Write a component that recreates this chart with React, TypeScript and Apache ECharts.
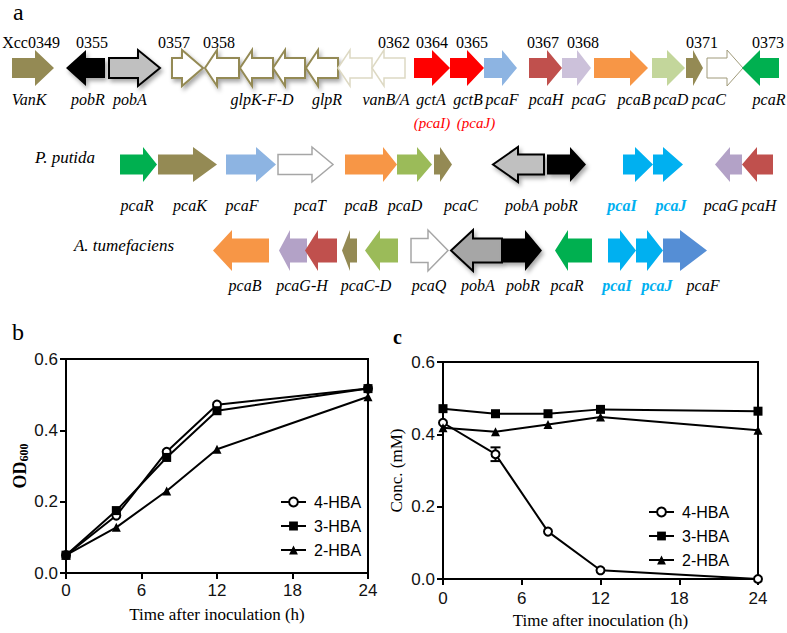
import React, { useEffect, useRef } from "react";
import * as echarts from "echarts";

// ---------- Panel b / c data ----------
const TIME = [0, 4, 8, 12, 24];
const OD_4HBA = [0.05, 0.161, 0.34, 0.472, 0.517];
const OD_3HBA = [0.05, 0.175, 0.324, 0.455, 0.517];
const OD_2HBA = [0.05, 0.128, 0.23, 0.347, 0.494];
const CONC_4HBA = [0.432, 0.345, 0.131, 0.024, 0.0];
const CONC_4HBA_ERR = [0, 0.019, 0, 0, 0];
const CONC_3HBA = [0.471, 0.457, 0.457, 0.469, 0.464];
const CONC_2HBA = [0.418, 0.407, 0.427, 0.448, 0.411];
const SERIES_NAMES = ["4-HBA", "3-HBA", "2-HBA"];

// ---------- Panel a: gene maps (map units along the operon) ----------
// [from, to, head, strand, kind]
const ROW1_GENES: [number, number, number, number, string][] = [
  [12, 54, 35, 1, "olive"],
  [66, 105, 86, -1, "black"],
  [109, 160, 138, 1, "grayOut"],
  [172, 203, 182, 1, "whiteOlive"],
  [205, 239, 217, -1, "whiteOlive"],
  [240, 273, 252, -1, "whiteOlive"],
  [273, 305, 285, -1, "whiteOlive"],
  [306, 338, 318, -1, "whiteOlive"],
  [338, 372, 350, -1, "whiteFaint"],
  [372, 405, 384, -1, "whiteFaint"],
  [414, 450, 432, 1, "red"],
  [450, 484, 467, 1, "red"],
  [484, 517, 502, 1, "blueLight"],
  [529, 562, 547, 1, "brick"],
  [562, 591, 577, 1, "lavLight"],
  [594, 648, 630, 1, "orange"],
  [652, 685, 667, 1, "greenLight"],
  [686, 703, 693, 1, "olive"],
  [707, 743, 727, 1, "whiteThin"],
  [742, 779, 760, -1, "green"],
];
const ROW2_GENES: [number, number, number, number, string][] = [
  [120, 157, 143, 1, "green"],
  [158, 217, 193, 1, "olive"],
  [226, 276, 256, 1, "blueLight"],
  [278, 333, 312, 1, "whiteGray"],
  [345, 397, 383, 1, "orange"],
  [397, 432, 417, 1, "greenMid"],
  [434, 452, 440, 1, "olive"],
  [493, 544, 518, -1, "grayOut"],
  [547, 586, 570, 1, "black"],
  [623, 653, 635, 1, "cyan"],
  [653, 683, 663, 1, "cyan"],
  [715, 742, 730, -1, "lavender"],
  [742, 773, 757, -1, "brick"],
];
const ROW3_GENES: [number, number, number, number, string][] = [
  [213, 269, 232, -1, "orange"],
  [279, 307, 290, -1, "lavender"],
  [305, 337, 318, -1, "brick"],
  [342, 357, 350, -1, "olive"],
  [365, 398, 380, -1, "greenMid"],
  [411, 448, 428, 1, "whiteGray"],
  [451, 502, 473, -1, "grayDarkOut"],
  [502, 542, 525, 1, "black"],
  [555, 592, 568, -1, "green"],
  [608, 636, 620, 1, "cyan"],
  [636, 663, 647, 1, "cyan"],
  [663, 707, 680, 1, "blueMid"],
];

// locus tags above row 1: [text, position]
const ROW1_TAGS: [string, number][] = [
  ["Xcc0349", 31], ["0355", 92], ["0357", 174], ["0358", 219], ["0362", 394],
  ["0364", 432], ["0365", 472], ["0367", 543], ["0368", 583], ["0371", 702], ["0373", 768],
];
// gene names: [text, position, kind]
const ROW1_NAMES: [string, number, string][] = [
  ["VanK", 29, "n"], ["pobR", 88, "n"], ["pobA", 130, "n"], ["glpK-F-D", 262, "n"],
  ["glpR", 327, "n"], ["vanB/A", 386, "n"], ["gctA", 431, "n"], ["gctB", 468, "n"],
  ["pcaF", 502, "n"], ["pcaH", 546, "n"], ["pcaG", 589, "n"], ["pcaB", 634, "n"],
  ["pcaD", 671, "n"], ["pcaC", 709, "n"], ["pcaR", 769, "n"],
];
const ROW1_ALIASES: [string, number, string][] = [
  ["(pcaI)", 432, "r"], ["(pcaJ)", 476, "r"],
];
const ROW2_NAMES: [string, number, string][] = [
  ["pcaR", 137, "n"], ["pcaK", 190, "n"], ["pcaF", 242, "n"], ["pcaT", 310, "n"],
  ["pcaB", 361, "n"], ["pcaD", 405, "n"], ["pcaC", 461, "n"], ["pobA", 522, "n"],
  ["pobR", 561, "n"], ["pcaI", 622, "b"], ["pcaJ", 671, "b"], ["pcaG", 721, "n"], ["pcaH", 759, "n"],
];
const ROW3_NAMES: [string, number, string][] = [
  ["pcaB", 245, "n"], ["pcaG-H", 302, "n"], ["pcaC-D", 366, "n"], ["pcaQ", 429, "n"],
  ["pobA", 478, "n"], ["pobR", 523, "n"], ["pcaR", 567, "n"], ["pcaI", 617, "b"],
  ["pcaJ", 657, "b"], ["pcaF", 703, "n"],
];
const ORGANISMS: [string, number][] = [["P. putida", 65], ["A. tumefaciens", 124]];

const SERIF = "'Liberation Serif', 'Times New Roman', serif";
const SANS = "'Liberation Sans', Arial, sans-serif";

const KIND_STYLE: Record<string, any> = {
  olive: { fill: "#948a54" },
  black: { fill: "#000000", shadow: true },
  grayOut: { fill: "#c0c0c0", stroke: "#000", lineWidth: 2, shadow: true },
  grayDarkOut: { fill: "#a6a6a6", stroke: "#000", lineWidth: 2, shadow: true },
  whiteOlive: { fill: "#ffffff", stroke: "#948a54", lineWidth: 2, shadow: true },
  whiteFaint: { fill: "#ffffff", stroke: "#ddd9c3", lineWidth: 1.5 },
  whiteThin: { fill: "#ffffff", stroke: "#a09a7a", lineWidth: 1 },
  whiteGray: { fill: "#ffffff", stroke: "#a6a6a6", lineWidth: 1.5 },
  red: { fill: "#ff0000" },
  blueLight: { fill: "#8db4e2" },
  blueMid: { fill: "#558ed5" },
  brick: { fill: "#c0504d" },
  lavLight: { fill: "#ccc1da" },
  lavender: { fill: "#b3a2c7" },
  orange: { fill: "#f79646" },
  greenLight: { fill: "#c3d69b" },
  greenMid: { fill: "#9bbb59" },
  green: { fill: "#00b050" },
  cyan: { fill: "#00b0f0" },
};

// row geometry (map y, body half height, head half height)
const ROWS = [
  { genes: ROW1_GENES, y: 68, body: 10, head: 18 },
  { genes: ROW2_GENES, y: 164.5, body: 10, head: 17.5 },
  { genes: ROW3_GENES, y: 250.5, body: 12, head: 20.5 },
];

export default function App() {
  const ref = useRef<HTMLDivElement>(null);
  useEffect(() => {
    if (!ref.current) return;
    const chart = echarts.init(ref.current, null, { renderer: "svg" });

    const genes: any[] = [];
    ROWS.forEach((r) => r.genes.forEach((g) => genes.push({ g, r })));

    const labels: any[] = [];
    ROW1_TAGS.forEach(([t, x]) => labels.push({ t, x, y: 42, k: "tag" }));
    ROW1_NAMES.forEach(([t, x, k]) => labels.push({ t, x, y: 99, k }));
    ROW1_ALIASES.forEach(([t, x, k]) => labels.push({ t, x, y: 123, k }));
    ROW2_NAMES.forEach(([t, x, k]) => labels.push({ t, x, y: 205, k }));
    ROW3_NAMES.forEach(([t, x, k]) => labels.push({ t, x, y: 285, k }));
    labels.push({ t: ORGANISMS[0][0], x: ORGANISMS[0][1], y: 157, k: "org" });
    labels.push({ t: ORGANISMS[1][0], x: ORGANISMS[1][1], y: 245, k: "org" });

    const pair = (ys: number[]) => TIME.map((t, i) => [t, ys[i]]);
    const lineSeries = (name: string, data: number[], idx: number, symbol: string) => ({
      type: "line",
      name,
      xAxisIndex: idx,
      yAxisIndex: idx,
      data: pair(data),
      symbol,
      symbolSize: symbol === "emptyCircle" ? 8 : 9,
      showSymbol: true,
      color: "#000",
      lineStyle: { color: "#000", width: 2 },
      itemStyle: { color: "#000", borderWidth: symbol === "emptyCircle" ? 1.2 : 0 },
      z: 5,
    });

    const xAxisBase = (grid: number, labelMargin: number) => ({
      type: "value",
      gridIndex: grid,
      min: 0,
      max: 24,
      interval: 6,
      name: "Time after inoculation (h)",
      nameLocation: "middle",
      nameGap: 33,
      nameTextStyle: { fontFamily: SERIF, fontSize: 17, color: "#000" },
      axisLine: { show: true, lineStyle: { color: "#000", width: 2 } },
      axisTick: { show: true, length: 6, lineStyle: { color: "#000", width: 2 } },
      axisLabel: { fontFamily: SANS, fontSize: 17, color: "#111", margin: labelMargin },
      splitLine: { show: false },
    });
    const yAxisBase = (grid: number, name: any, nameStyle: any, gap: number) => ({
      type: "value",
      gridIndex: grid,
      min: 0,
      max: 0.6,
      interval: 0.2,
      name,
      nameLocation: "middle",
      nameRotate: 90,
      nameGap: gap,
      nameTextStyle: nameStyle,
      axisLine: { show: true, lineStyle: { color: "#000", width: 2 } },
      axisTick: { show: true, length: 6, lineStyle: { color: "#000", width: 2 } },
      axisLabel: { fontFamily: SANS, fontSize: 17, color: "#111", margin: 8, formatter: (v: number) => v.toFixed(1) },
      splitLine: { show: false },
    });

    const legendBase = (left: number, top: number) => ({
      data: SERIES_NAMES,
      orient: "vertical",
      left,
      top,
      itemWidth: 25,
      itemHeight: 11,
      itemGap: 8,
      selectedMode: false,
      textStyle: { fontFamily: SANS, fontSize: 16, color: "#000", padding: [0, 0, 0, 3] },
    });

    const option: any = {
      animation: false,
      backgroundColor: "#fff",
      grid: [
        { left: 66, top: 359, width: 302, height: 214, show: true, borderColor: "#000", borderWidth: 2 },
        { left: 443, top: 362, width: 315, height: 217, show: true, borderColor: "#000", borderWidth: 2 },
        { left: 0, top: 0, width: 787, height: 633, show: false },
      ],
      xAxis: [
        xAxisBase(0, 9),
        xAxisBase(1, 11),
        { type: "value", gridIndex: 2, min: 0, max: 787, show: false },
      ],
      yAxis: [
        yAxisBase(
          0,
          "{b|OD}{s|600}",
          {
            rich: {
              b: { fontFamily: SERIF, fontSize: 18, fontWeight: "bold", color: "#000" },
              s: { fontFamily: SERIF, fontSize: 12, fontWeight: "bold", color: "#000", padding: [8, 0, 0, 0] },
            },
          },
          36
        ),
        yAxisBase(1, "Conc. (mM)", { fontFamily: SERIF, fontSize: 17, color: "#000" }, 38),
        { type: "value", gridIndex: 2, min: 0, max: 633, inverse: true, show: false },
      ],
      legend: [legendBase(275, 489), legendBase(643, 499)],
      series: [
        lineSeries("4-HBA", OD_4HBA, 0, "emptyCircle"),
        lineSeries("3-HBA", OD_3HBA, 0, "rect"),
        lineSeries("2-HBA", OD_2HBA, 0, "triangle"),
        lineSeries("4-HBA", CONC_4HBA, 1, "emptyCircle"),
        lineSeries("3-HBA", CONC_3HBA, 1, "rect"),
        lineSeries("2-HBA", CONC_2HBA, 1, "triangle"),
        {
          type: "custom",
          xAxisIndex: 1,
          yAxisIndex: 1,
          silent: true,
          z: 4,
          data: TIME.map((t, i) => [t, CONC_4HBA[i], CONC_4HBA_ERR[i]]).filter((d) => d[2] > 0),
          renderItem: (params: any, api: any) => {
            const t = api.value(0), v = api.value(1), e = api.value(2);
            const hi = api.coord([t, v + e]);
            const lo = api.coord([t, v - e]);
            const w = 5;
            const st = { stroke: "#000", lineWidth: 2 };
            return {
              type: "group",
              children: [
                { type: "line", shape: { x1: hi[0], y1: hi[1], x2: lo[0], y2: lo[1] }, style: st },
                { type: "line", shape: { x1: hi[0] - w, y1: hi[1], x2: hi[0] + w, y2: hi[1] }, style: st },
                { type: "line", shape: { x1: lo[0] - w, y1: lo[1], x2: lo[0] + w, y2: lo[1] }, style: st },
              ],
            };
          },
        },
        {
          type: "custom",
          xAxisIndex: 2,
          yAxisIndex: 2,
          silent: true,
          clip: false,
          data: genes.map(({ g, r }) => [g[0], r.y]),
          renderItem: (params: any, api: any) => {
            const { g, r } = genes[params.dataIndex];
            const [from, to, head, strand, kind] = g;
            const c0 = api.coord([from, r.y]);
            const c1 = api.coord([to, r.y]);
            const ch = api.coord([head, r.y]);
            const top = api.coord([from, r.y - r.body])[1];
            const bot = api.coord([from, r.y + r.body])[1];
            const htop = api.coord([from, r.y - r.head])[1];
            const hbot = api.coord([from, r.y + r.head])[1];
            const yc = c0[1];
            let pts: number[][];
            if (strand > 0) {
              pts = [[c0[0], top], [ch[0], top], [ch[0], htop], [c1[0], yc], [ch[0], hbot], [ch[0], bot], [c0[0], bot]];
            } else {
              pts = [[c1[0], top], [ch[0], top], [ch[0], htop], [c0[0], yc], [ch[0], hbot], [ch[0], bot], [c1[0], bot]];
            }
            const s = KIND_STYLE[kind];
            const style: any = { fill: s.fill, stroke: s.stroke || null, lineWidth: s.lineWidth || 0, lineJoin: "miter" };
            if (s.shadow) {
              style.shadowBlur = 4;
              style.shadowOffsetX = 2;
              style.shadowOffsetY = 3;
              style.shadowColor = "rgba(0,0,0,0.35)";
            }
            return { type: "polygon", shape: { points: pts }, style };
          },
        },
        {
          type: "custom",
          xAxisIndex: 2,
          yAxisIndex: 2,
          silent: true,
          clip: false,
          data: labels.map((l) => [l.x, l.y]),
          renderItem: (params: any, api: any) => {
            const l = labels[params.dataIndex];
            const p = api.coord([l.x, l.y]);
            let fill = "#000", fontStyle = "italic", fontWeight = "normal", fontSize = 16;
            if (l.k === "tag") { fontStyle = "normal"; fontSize = 16; }
            if (l.k === "r") { fill = "#ff0000"; fontSize = 15; }
            if (l.k === "b") { fill = "#00b0f0"; fontWeight = "bold"; }
            if (l.k === "org") { fontSize = 17; }
            return {
              type: "text",
              x: p[0],
              y: p[1],
              style: { text: l.t, fill, fontFamily: SERIF, fontSize, fontStyle, fontWeight, align: "center", verticalAlign: "middle" },
            };
          },
        },
      ],
      graphic: [
        { type: "text", left: 13, top: 0, style: { text: "a", fontFamily: SERIF, fontSize: 24, fill: "#000" } },
        { type: "text", left: 12, top: 320, style: { text: "b", fontFamily: SERIF, fontSize: 24, fill: "#000" } },
        { type: "text", left: 393, top: 327, style: { text: "c", fontFamily: SERIF, fontSize: 20, fontWeight: "bold", fill: "#000" } },
      ],
    };
    chart.setOption(option);
    return () => chart.dispose();
  }, []);
  return <div ref={ref} style={{ position: "absolute", left: 0, top: 0, width: 787, height: 633 }} />;
}
